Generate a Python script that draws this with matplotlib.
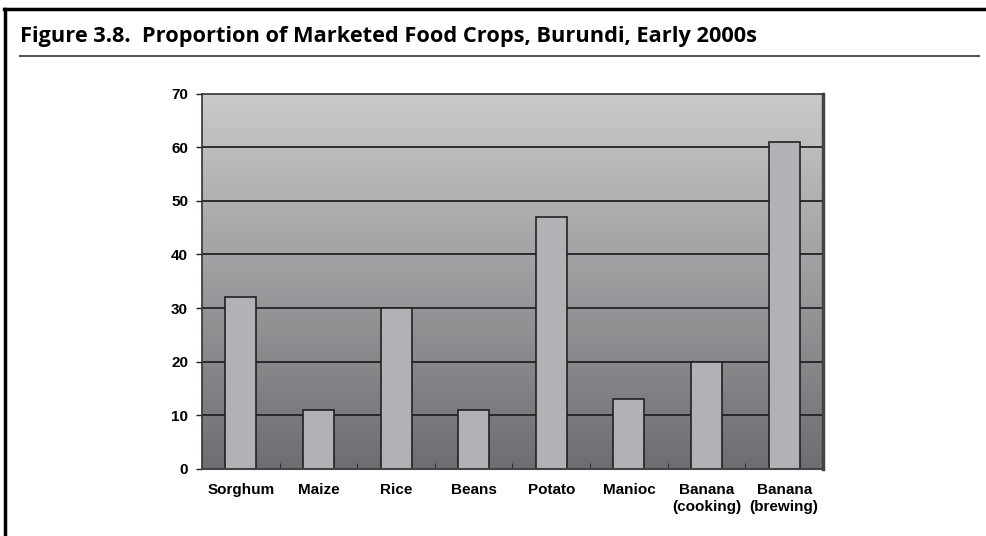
import numpy as np
import matplotlib.pyplot as plt
from matplotlib.colors import LinearSegmentedColormap
from matplotlib.lines import Line2D

crops = ["Sorghum", "Maize", "Rice", "Beans", "Potato", "Manioc",
         "Banana\n(cooking)", "Banana\n(brewing)"]
share = [32, 11, 30, 11, 47, 13, 20, 61]
yticks = [0, 10, 20, 30, 40, 50, 60, 70]

fig = plt.figure(figsize=(9.87, 5.36), dpi=100)
ax = fig.add_axes([0.2047, 0.125, 0.6291, 0.7004])

x = np.arange(len(crops))

# grey gradient background, dark at bottom, light at top
grad = np.linspace(0, 1, 256).reshape(-1, 1)
bg = LinearSegmentedColormap.from_list("bg", ["#6d6e71", "#c9cacc"])
ax.imshow(grad, cmap=bg, aspect="auto", origin="lower",
          extent=[-0.5, len(crops) - 0.5, 0, 70], zorder=0)
ax.set_ylim(0, 70)
ax.set_xlim(-0.5, len(crops) - 0.5)

for t in yticks[1:-1]:
    ax.axhline(t, color="#222222", lw=1.3, zorder=1)

ax.bar(x, share, width=0.4, color="#b1b2b5", edgecolor="#222222", lw=1.2, zorder=2)

ax.set_yticks(yticks)
ax.set_yticklabels([str(t) for t in yticks], fontweight="bold", fontsize=11,
                   family="Liberation Sans")
ax.set_xticks(x)
ax.set_xticklabels(crops, fontweight="bold", fontsize=11, family="Liberation Sans",
                   linespacing=1.3)
ax.tick_params(axis="x", length=0, pad=10)
ax.tick_params(axis="y", length=4, width=1, color="#222222", pad=6)
ax.set_xticks(np.arange(0.5, len(crops) - 0.5), minor=True)
ax.tick_params(axis="x", which="minor", direction="in", length=4, color="#222222")

for s in ["left", "top"]:
    ax.spines[s].set_color("#333333")
    ax.spines[s].set_linewidth(1.2)
ax.spines["right"].set_color("#444444")
ax.spines["right"].set_linewidth(2.5)
ax.spines["bottom"].set_color("#444444")
ax.spines["bottom"].set_linewidth(1.5)

# frame and title
fig.add_artist(Line2D([0.005, 0.005], [0, 0.983], color="black", lw=2.5))
fig.add_artist(Line2D([0.004, 1.0], [0.983, 0.983], color="black", lw=2.5))
fig.add_artist(Line2D([0.0203, 0.992], [0.8955, 0.8955], color="#555555", lw=1.5))
fig.text(0.0203, 0.932, "Figure 3.8.  Proportion of Marketed Food Crops, Burundi, Early 2000s",
         fontsize=15.7, fontweight="bold", family="Open Sans", va="center", ha="left")

fig.savefig("out.png", dpi=100)
